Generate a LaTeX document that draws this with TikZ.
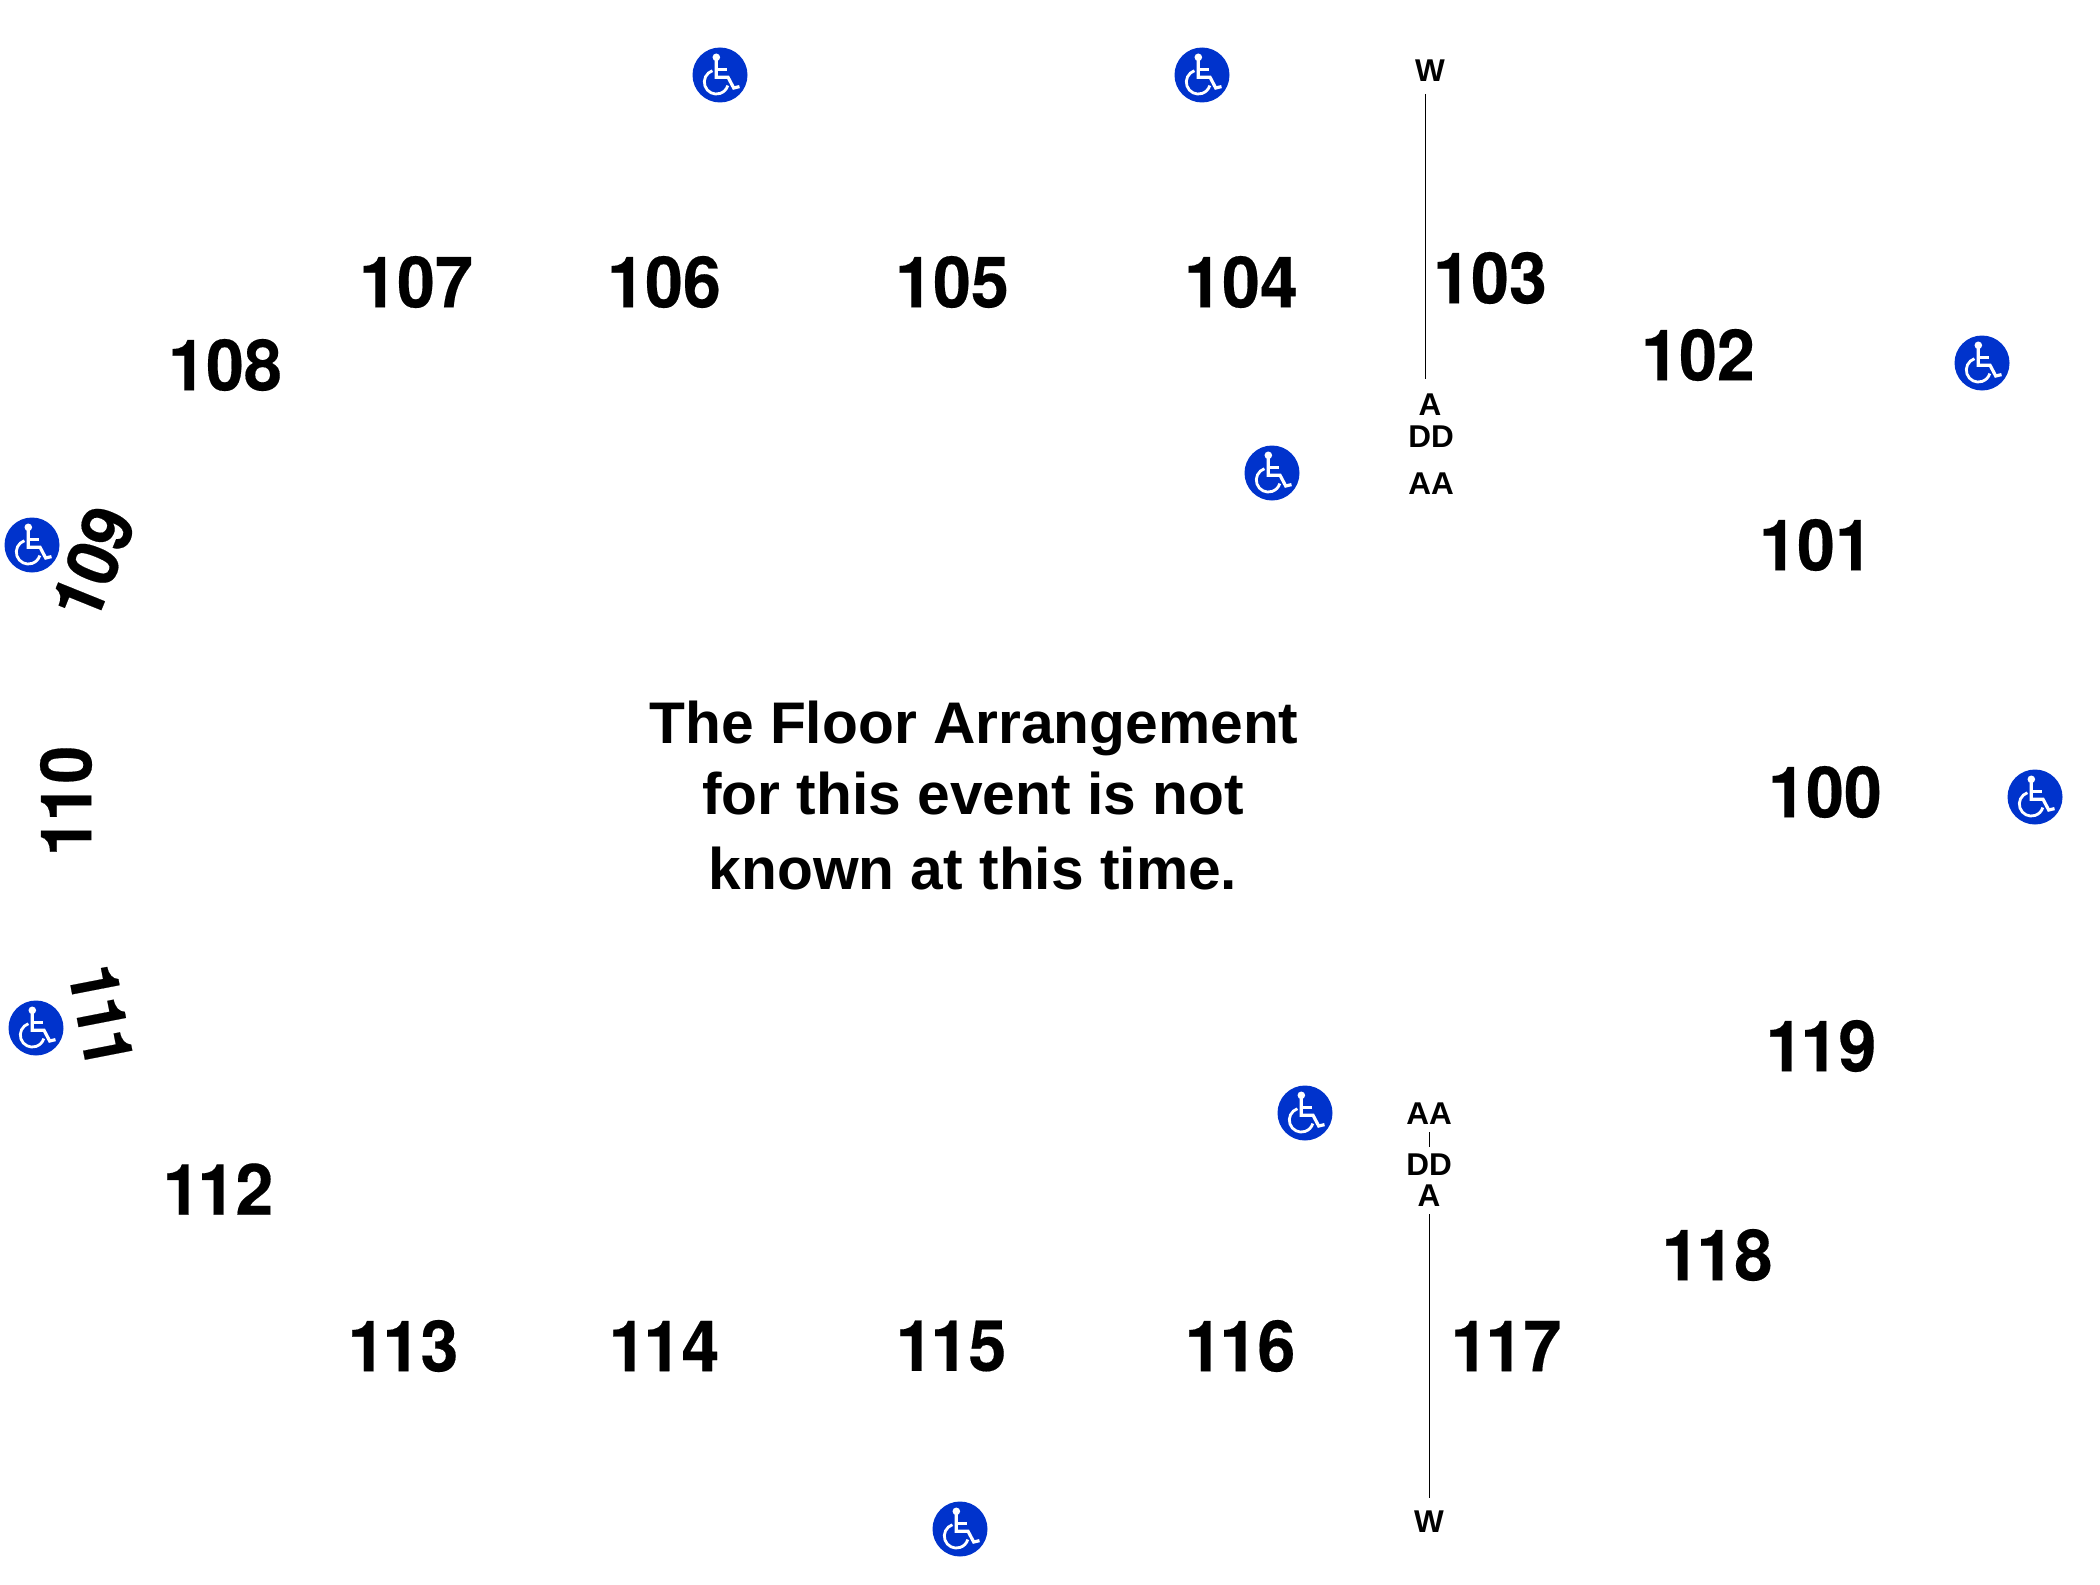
\documentclass[tikz,border=0pt]{standalone}
\usepackage{fontspec}
\setmainfont{Liberation Sans}
\newfontfamily\seatfont[FakeStretch=0.96,FakeBold=0.25]{TeX Gyre Heros}
\usetikzlibrary{positioning}
\definecolor{accessblue}{RGB}{0,51,204}
\tikzset{
  pics/access/.style={
    code={
      \begin{scope}[x=1pt,y=1pt]
        \fill[white] (-3.7,17.7) circle (3.8);
        \draw[white,line width=3.2pt] (-3.7,15) -- (-3.7,-2.2) -- (8,-2.2) -- (13.7,-13) -- (19.5,-11.6);
        \draw[white,line width=2.8pt] (-3.7,5.5) -- (7,5.5);
        \draw[white,line width=2.8pt] (-7.6,4.3) arc (109:343:12);
      \end{scope}
    }
  }
}
\begin{document}
\begin{tikzpicture}[
    x=1pt,
    y=-1pt,
    every node/.style={
      inner sep=0pt,
      font=\bfseries
    },
    section/.style={
      font=\fontsize{71}{71}\seatfont\bfseries
    },
    tilted/.style={
      font=\fontsize{68}{68}\seatfont\bfseries
    },
    rowmark/.style={
      font=\fontsize{31.5}{31.5}\selectfont\bfseries
    },
    notice/.style={
      anchor=base,
      font=\fontsize{58.7}{58.7}\selectfont\bfseries
    },
    badge/.style={
      circle,
      fill=accessblue,
      minimum size=55pt
    },
    aisle/.style={
      line width=1pt,
      black
    }
    ]
    \useasboundingbox (0,0) rectangle (2100,1584);

    \foreach \n/\x/\y in {107/416/282,106/664/282,105/952/282,104/1241/282,103/1490/278,
      108/225/365,102/1698/355,101/1816/545,100/1825/792}{
      \node[section] (s\n) at (\x,\y) {\n};
    }
    \foreach \n/\x/\y in {9/1821/1046,8/1717/1255,7/1506/1346,6/1240/1346,5/951/1346,
      4/664/1346,3/403/1346,2/218/1189}{
      \node[section] (s11\n) at (\x,\y) {1\kern-3pt 1\n};
    }
    \node[section,rotate=68] (s109) at (93,563) {109};
    \node[section,rotate=90] (s110) at (66,801) {1\kern-3pt 10};
    \node[tilted,rotate=-79] (s111) at (101,1016) {1\kern-3pt 1\kern-3pt 1};

    \node[notice] (line1) at (974,743) {The Floor Arrangement};
    \node[notice] (line2) at (973,814) {for this event is not};
    \node[notice] (line3) at (973,889) {known at this time.};

    % top aisle
    \node[rowmark] (w_t) at (1430,71) {W};
    \node[rowmark] (a_t) at (1430,405) {A};
    \node[rowmark] (dd_t) at (1431,437) {DD};
    \node[rowmark] (aa_t) at (1431,484) {AA};
    % bottom aisle
    \node[rowmark] (aa_b) at (1429,1114) {AA};
    \node[rowmark] (dd_b) at (1429,1165) {DD};
    \node[rowmark] (a_b) at (1429,1196) {A};
    \node[rowmark] (w_b) at (1429,1522) {W};

    \coordinate (t1) at (1425.5,94);
    \coordinate (t2) at (1425.5,379);
    \coordinate (b1) at (1429.5,1132);
    \coordinate (b2) at (1429.5,1147);
    \coordinate (b3) at (1429.5,1214);
    \coordinate (b4) at (1429.5,1498);
    \draw[aisle]
    (t1) -- (t2)
    (b1) -- (b2)
    (b3) -- (b4)
    ;

    \foreach \n/\x/\y in {a/720/75,b/1202/75,c/1272/473,d/1982/363,e/32/545,
      f/2035/797,g/36/1028,h/1305/1113,i/960/1529}{
      \node[badge] (badge_\n) at (\x,\y) {};
      \pic at (badge_\n) {access};
    }
  \end{tikzpicture}
\end{document}
